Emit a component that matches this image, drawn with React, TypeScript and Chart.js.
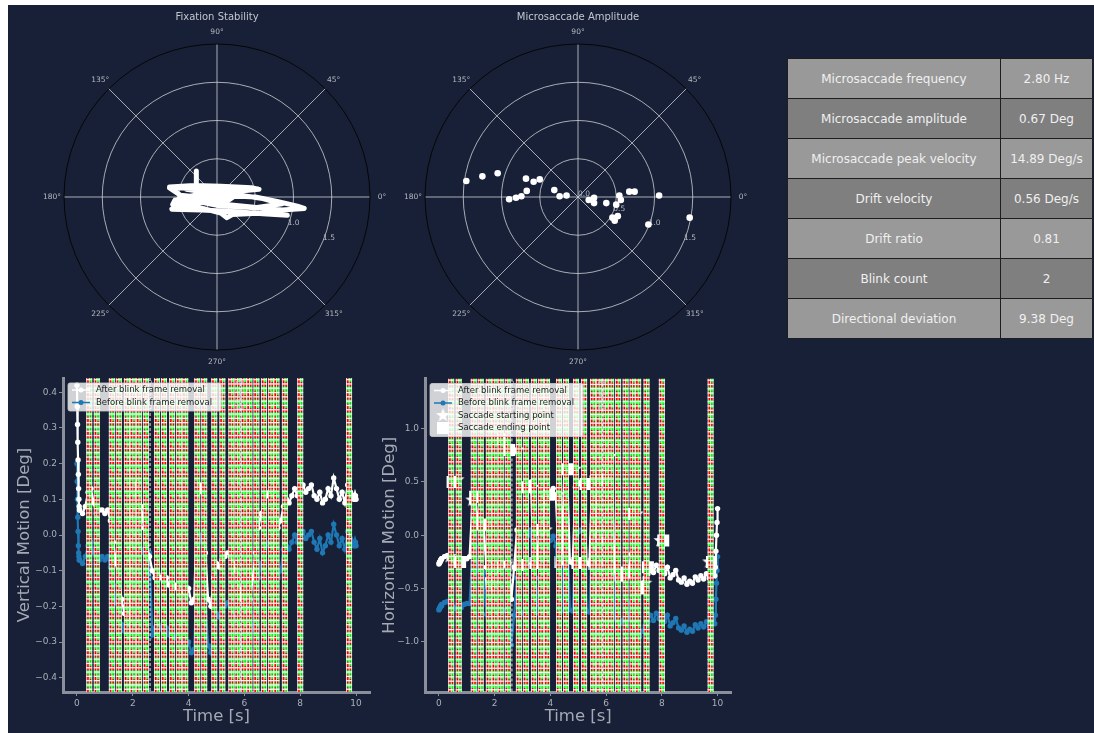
import React, { useEffect, useRef } from 'react';
import { Chart, registerables } from 'chart.js';

Chart.register(...registerables);
Chart.defaults.font.family = '"DejaVu Sans", sans-serif';

const BG = '#172036';
const SPINE = '#8a8f9b';
const TICK_COLOR = '#a9aeb8';
const TITLE_COLOR = '#a4a9b3';

// ---------- Polar plots ----------
const polarRings = [0.5, 1.0, 1.5];
const polarMax = 2.0;
const angleTicks = [0, 45, 90, 135, 180, 225, 270, 315];
const radialLabels = [0.0, 0.5, 1.0, 1.5];

// fixation trace (horizontal / vertical position, Deg)
const fixX = [-0.62, -0.30, 0.05, 0.45, 0.55, 0.20, -0.15, -0.40, -0.27, -0.27, -0.27, 0.10, 0.50, 0.80, 1.05, 1.14, 0.85, 0.45, 0.05, -0.35, -0.58, -0.55, -0.20, -0.45, -0.59, -0.20, 0.20, 0.60, 0.92, 0.60, 0.20, 0.13, 0.05, -0.30, -0.50, -0.20, 0.25, 0.60, 0.85, 0.50, 0.00, -0.40, -0.62, -0.10, 0.30, 0.15, -0.45];
const fixY = [0.13, 0.15, 0.14, 0.12, 0.10, 0.07, 0.09, 0.10, 0.08, 0.34, 0.06, 0.02, 0.00, -0.06, -0.12, -0.15, -0.17, -0.13, -0.09, -0.06, -0.10, -0.04, -0.07, -0.12, -0.16, -0.17, -0.19, -0.22, -0.24, -0.21, -0.23, -0.27, -0.21, -0.12, -0.02, 0.04, 0.03, -0.02, -0.09, -0.14, -0.11, -0.03, 0.12, 0.11, 0.06, -0.04, 0.02];

// microsaccade amplitude points (Deg)
const msX = [-1.46, -1.25, -1.05, -0.68, -0.58, -0.50, -0.67, -0.90, -0.81, -0.74, -0.31, -0.24, -0.15, 0.14, 0.21, 0.21, 0.37, 0.50, 0.54, 0.56, 0.67, 0.74, 1.06, 0.45, 0.52, 0.48, 0.92, 1.46];
const msY = [0.21, 0.27, 0.31, 0.24, 0.20, 0.23, 0.08, -0.03, -0.01, 0.01, 0.09, 0.01, 0.02, -0.04, -0.01, -0.08, -0.08, -0.10, 0.02, -0.04, 0.07, 0.07, 0.02, -0.27, -0.25, -0.31, -0.36, -0.27];

// ---------- Table ----------
const tableLabels = ['Microsaccade frequency', 'Microsaccade amplitude', 'Microsaccade peak velocity', 'Drift velocity', 'Drift ratio', 'Blink count', 'Directional deviation'];
const tableValues = ['2.80 Hz', '0.67 Deg', '14.89 Deg/s', '0.56 Deg/s', '0.81', '2', '9.38 Deg'];

// ---------- Motion traces ----------
const timeS = [
  0, 0.01, 0.02, 0.03, 0.04, 0.05, 0.06, 0.07, 0.08, 0.09,
  0.1, 0.2, 0.3, 0.4, 0.5, 0.6, 0.7, 0.8, 0.9, 1.0,
  1.1, 1.2, 1.3, 1.4, 1.5, 1.6, 1.7, 1.8, 1.9, 2.0,
  2.1, 2.2, 2.3, 2.4, 2.5, 2.6, 2.7, 2.8, 2.9, 3.0,
  3.1, 3.2, 3.3, 3.4, 3.5, 3.6, 3.7, 3.8, 3.9, 4.0,
  4.1, 4.2, 4.3, 4.4, 4.5, 4.6, 4.7, 4.8, 4.9, 5.0,
  5.1, 5.2, 5.3, 5.4, 5.5, 5.6, 5.7, 5.8, 5.9, 6.0,
  6.1, 6.2, 6.3, 6.4, 6.5, 6.6, 6.7, 6.8, 6.9, 7.0,
  7.1, 7.2, 7.3, 7.4, 7.5, 7.6, 7.7, 7.8, 7.9, 8.0,
  8.1, 8.2, 8.3, 8.4, 8.5, 8.6, 8.7, 8.8, 8.9, 9.0,
  9.1, 9.2, 9.3, 9.4, 9.5, 9.6, 9.7, 9.8, 9.9,
  9.92, 9.94, 9.96, 9.98, 10.0,
];

const vertAfter = [
  0.42, 0.36, 0.31, 0.26, 0.21, 0.17, 0.13, 0.10, 0.08, 0.07,
  0.07, 0.06, 0.08, 0.12, 0.13, 0.09, 0.06, 0.07, 0.07, 0.06,
  0.07, 0.04, -0.02, -0.08, -0.12, -0.18, -0.22, -0.25, -0.22, 0.05,
  0.14, 0.15, 0.08, 0.02, -0.03, -0.06, -0.10, -0.12, -0.11, -0.12,
  -0.13, -0.12, -0.14, -0.15, -0.14, -0.15, -0.16, -0.16, -0.17, -0.15,
  -0.19, -0.18, 0.05, 0.14, 0.12, -0.05, -0.18, -0.20, -0.12, -0.08,
  -0.09, -0.07, -0.06, -0.05, -0.06, -0.08, -0.10, -0.15, -0.18, -0.20,
  -0.21, -0.18, -0.12, -0.05, 0.02, 0.06, 0.09, 0.11, 0.12, 0.13,
  0.08, 0.02, 0.04, 0.08, 0.10, 0.09, 0.11, 0.13, 0.11, 0.12,
  0.14, 0.12, 0.13, 0.14, 0.11, 0.10, 0.12, 0.09, 0.10, 0.13,
  0.11, 0.16, 0.13, 0.10, 0.12, 0.09, 0.14, 0.12, 0.11,
  0.10, 0.11, 0.10, 0.11, 0.10,
];

const vertBefore = [
  0.20, 0.15, 0.10, 0.05, 0.01, -0.03, -0.05, -0.06, -0.07, -0.07,
  -0.07, -0.08, -0.06, -0.03, -0.02, -0.05, -0.08, -0.07, -0.06, -0.07,
  -0.06, -0.09, -0.14, -0.19, -0.22, -0.25, -0.27, -0.28, -0.26, -0.08,
  0.02, 0.03, -0.04, -0.05, -0.06, -0.05, -0.28, -0.26, -0.25, -0.26,
  -0.27, -0.26, -0.28, -0.29, -0.28, -0.29, -0.30, -0.30, -0.31, -0.30,
  -0.33, -0.32, -0.09, 0.00, -0.02, -0.19, -0.31, -0.33, -0.26, -0.22,
  -0.23, -0.21, -0.20, -0.19, -0.20, -0.22, -0.24, -0.29, -0.32, -0.34,
  -0.35, -0.32, -0.26, -0.19, -0.12, -0.08, -0.05, -0.03, -0.02, -0.01,
  -0.06, -0.12, -0.10, -0.04, -0.03, -0.04, -0.02, 0.00, -0.02, -0.01,
  0.01, -0.01, 0.00, 0.01, -0.02, -0.04, -0.01, -0.05, -0.03, 0.00,
  -0.02, 0.03, 0.00, -0.03, -0.01, -0.04, 0.01, -0.01, -0.02,
  -0.03, -0.02, -0.03, -0.02, -0.03,
];

const horAfter = [
  -0.27, -0.26, -0.26, -0.25, -0.25, -0.24, -0.24, -0.23, -0.23, -0.22,
  -0.22, -0.20, -0.19, -0.21, -0.24, -0.25, -0.23, -0.24, -0.22, -0.22,
  -0.20, 0.30, 0.35, 0.12, 0.08, 0.10, -0.30, -0.45, -0.50, -0.32,
  -0.28, -0.27, -0.26, -0.27, -0.26, -0.60, -0.30, 0.05, -0.25, -0.28,
  -0.27, 0.45, 0.50, -0.26, -0.28, 0.05, 0.10, 0.30, 0.35, 0.40,
  0.44, 0.35, -0.25, -0.26, 0.62, 0.60, -0.25, -0.26, 0.45, 0.48,
  0.50, 0.49, -0.26, -0.27, 0.55, -0.26, 0.50, 0.52, 0.50, 0.65,
  0.72, 0.75, -0.33, -0.36, -0.38, -0.35, -0.37, -0.34, -0.18, 0.20,
  0.21, -0.50, -0.45, -0.40, -0.36, -0.30, -0.35, -0.28, -0.33, -0.30,
  -0.36, -0.30, -0.40, -0.37, -0.33, -0.42, -0.44, -0.40, -0.46, -0.43,
  -0.45, -0.39, -0.42, -0.38, -0.41, -0.36, -0.40, -0.34, -0.38,
  -0.30, -0.15, 0.00, 0.12, 0.25,
];

const horBefore = [
  -0.70, -0.69, -0.69, -0.68, -0.68, -0.67, -0.67, -0.66, -0.66, -0.65,
  -0.66, -0.63, -0.62, -0.64, -0.67, -0.69, -0.66, -0.68, -0.65, -0.64,
  -0.64, -0.15, -0.10, -0.33, -0.37, -0.35, -0.74, -0.90, -0.95, -0.77,
  -0.73, -0.72, -0.71, -0.70, -0.62, -1.03, -0.75, -0.40, -0.70, -0.73,
  -0.72, 0.00, 0.05, -0.71, -0.73, -0.40, -0.35, -0.15, -0.10, -0.05,
  -0.01, -0.10, -0.70, -0.71, 0.17, 0.15, -0.70, -0.71, 0.00, 0.03,
  0.05, 0.04, -0.71, -0.72, 0.10, -0.71, 0.05, 0.07, 0.05, 0.20,
  0.27, 0.30, -0.78, -0.81, -0.83, -0.80, -0.82, -0.79, -0.63, -0.25,
  -0.24, -0.95, -0.90, -0.85, -0.81, -0.75, -0.80, -0.73, -0.78, -0.75,
  -0.81, -0.75, -0.85, -0.82, -0.78, -0.87, -0.89, -0.85, -0.91, -0.88,
  -0.90, -0.84, -0.87, -0.83, -0.86, -0.81, -0.85, -0.79, -0.83,
  -0.75, -0.60, -0.45, -0.33, -0.20,
];

// saccades (onset / offset, s) and horizontal positions at onset / offset (Deg)
const sacStart = [0.39, 0.66, 1.20, 1.45, 1.74, 1.95, 2.17, 2.42, 2.82, 3.07, 3.36, 3.61, 3.83, 4.26, 4.51, 4.87, 5.16, 5.48, 5.70, 5.93, 6.13, 6.38, 6.65, 6.90, 7.10, 7.40, 7.95, 9.70];
const sacEnd = [0.49, 0.76, 1.30, 1.55, 1.84, 2.05, 2.27, 2.52, 2.92, 3.17, 3.46, 3.71, 3.93, 4.36, 4.61, 4.97, 5.26, 5.58, 5.80, 6.03, 6.23, 6.48, 6.75, 7.00, 7.20, 7.50, 8.05, 9.80];
const sacStartH = [-0.20, 0.52, 0.33, 0.12, 0.08, -0.45, -0.30, -0.27, 0.80, -0.28, 0.45, -0.26, 0.05, 0.38, -0.25, 0.62, -0.26, 0.48, -0.27, -0.04, 0.74, -0.35, -0.37, -0.30, 0.20, -0.45, -0.05, -0.25];
const sacEndH = [0.50, -0.25, 0.36, 0.10, -0.45, -0.30, 0.90, 0.80, -0.28, 0.45, -0.26, 0.05, 0.38, -0.25, 0.62, -0.26, 0.48, -0.27, 0.52, 0.52, -0.33, -0.38, -0.35, 0.20, -0.50, -0.30, -0.05, -0.25];

const blinkTimes = [2.62, 5.87];
const blinkLabels = ['Blink 0', 'Blink 1'];

const timeTicks = [0, 2, 4, 6, 8, 10];
const vertTicks = [-0.4, -0.3, -0.2, -0.1, 0.0, 0.1, 0.2, 0.3, 0.4];
const horTicks = [-1.0, -0.5, 0.0, 0.5, 1.0];

// ---------- helpers ----------
function fmtTick(v: number) {
  if (Math.abs(v) < 1e-9) return '0.0';
  return v.toFixed(1).replace('-', '\u2212');
}

function makeStarCanvas(size: number) {
  const c = document.createElement('canvas');
  c.width = size; c.height = size;
  const g = c.getContext('2d')!;
  const cx = size / 2, cy = size / 2, ro = size / 2, ri = ro * 0.4;
  g.beginPath();
  for (let k = 0; k < 10; k++) {
    const r = k % 2 === 0 ? ro : ri;
    const a = -Math.PI / 2 + (k * Math.PI) / 5;
    const px = cx + r * Math.cos(a), py = cy + r * Math.sin(a);
    if (k === 0) g.moveTo(px, py); else g.lineTo(px, py);
  }
  g.closePath();
  g.fillStyle = '#ffffff';
  g.fill();
  return c;
}

function makePolarPlugin(title: string) {
  return {
    id: 'polarGrid',
    beforeDatasetsDraw(chart: any) {
      const { ctx } = chart;
      const xs = chart.scales.x, ys = chart.scales.y;
      const cx = xs.getPixelForValue(0), cy = ys.getPixelForValue(0);
      const unit = xs.getPixelForValue(1) - cx;
      const R = polarMax * unit;
      ctx.save();
      ctx.lineWidth = 1;
      ctx.strokeStyle = 'rgba(205,208,214,0.8)';
      polarRings.forEach((r) => {
        ctx.beginPath(); ctx.arc(cx, cy, r * unit, 0, Math.PI * 2); ctx.stroke();
      });
      angleTicks.forEach((a) => {
        const rad = (a * Math.PI) / 180;
        ctx.beginPath(); ctx.moveTo(cx, cy);
        ctx.lineTo(cx + R * Math.cos(rad), cy - R * Math.sin(rad)); ctx.stroke();
      });
      ctx.strokeStyle = '#060606';
      ctx.beginPath(); ctx.arc(cx, cy, R, 0, Math.PI * 2); ctx.stroke();

      ctx.fillStyle = '#b4b8c0';
      ctx.font = '7.5px "DejaVu Sans"';
      ctx.textAlign = 'center'; ctx.textBaseline = 'middle';
      angleTicks.forEach((a) => {
        const rad = (a * Math.PI) / 180;
        ctx.fillText(a + '\u00b0', cx + (R + 12) * Math.cos(rad), cy - (R + 12) * Math.sin(rad));
      });
      ctx.textAlign = 'left'; ctx.textBaseline = 'alphabetic';
      const la = (-22.5 * Math.PI) / 180;
      radialLabels.forEach((r) => {
        ctx.fillText(r.toFixed(1), cx + r * unit * Math.cos(la), cy - r * unit * Math.sin(la) - 1);
      });
      ctx.fillStyle = '#c3c7cf';
      ctx.font = '10px "DejaVu Sans"';
      ctx.textAlign = 'center'; ctx.textBaseline = 'middle';
      ctx.fillText(title, cx, cy - R - 27);
      ctx.restore();
    },
  };
}

const bandsPlugin = {
  id: 'saccadeBands',
  afterDatasetsDraw(chart: any) {
    const { ctx, chartArea: ca } = chart;
    const xs = chart.scales.x;
    const top = ca.top, bot = ca.bottom;
    ctx.save();
    ctx.beginPath(); ctx.rect(ca.left, ca.top, ca.right - ca.left, ca.bottom - ca.top); ctx.clip();
    // blink lines
    ctx.strokeStyle = 'rgba(255,255,255,0.9)'; ctx.lineWidth = 1; ctx.setLineDash([3, 2]);
    blinkTimes.forEach((t) => {
      const x = xs.getPixelForValue(t);
      ctx.beginPath(); ctx.moveTo(x, top); ctx.lineTo(x, bot); ctx.stroke();
    });
    ctx.setLineDash([]);
    sacStart.forEach((s, i) => {
      const x0 = xs.getPixelForValue(s), x1 = xs.getPixelForValue(sacEnd[i]);
      const l = x0 - 1.2, r = x1 + 1.2, m = (l + r) / 2;
      const hw = m - l;
      let k = 0;
      for (let y = top; y < bot; y += 4.3, k++) {
        const h = Math.min(4.3, bot - y);
        ctx.fillStyle = k % 3 === 2 ? '#00ff00' : '#ff0000';
        ctx.fillRect(l, y, hw, h);
        ctx.fillStyle = k % 3 === 1 ? '#ff0000' : '#00ff00';
        ctx.fillRect(m, y, hw, h);
      }
      ctx.fillStyle = 'rgba(255,255,255,0.85)';
      ctx.fillRect(l - 0.4, top, 0.9, bot - top);
      ctx.fillRect(r - 0.5, top, 0.9, bot - top);
      ctx.fillRect(m - 0.45, top, 0.9, bot - top);
      ctx.fillStyle = 'rgba(255,255,255,0.95)';
      for (let y = top + 1; y < bot; y += 4.3) ctx.fillRect(l - 0.4, y, r - l + 0.8, 1.3);
    });
    // blink labels
    ctx.fillStyle = 'rgba(205,208,214,0.8)';
    ctx.font = '9px "DejaVu Sans"';
    ctx.textAlign = 'right'; ctx.textBaseline = 'middle';
    blinkTimes.forEach((t, i) => {
      const x = xs.getPixelForValue(t);
      ctx.save();
      ctx.translate(x, top + 1);
      ctx.rotate(-Math.PI / 2);
      ctx.fillText(blinkLabels[i], 0, 0);
      ctx.restore();
    });
    ctx.restore();
  },
};

type LegendItem = { label: string; kind: 'line' | 'star' | 'square'; color: string };

function makeLegendPlugin(items: LegendItem[], star: HTMLCanvasElement) {
  return {
    id: 'customLegend',
    afterDraw(chart: any) {
      const { ctx, chartArea: ca } = chart;
      ctx.save();
      ctx.font = '8.5px "DejaVu Sans"';
      const rowH = 12.5;
      const x0 = ca.left + 5, y0 = ca.top + 5;
      const textX = x0 + 28;
      let tw = 0;
      items.forEach((it) => { tw = Math.max(tw, ctx.measureText(it.label).width); });
      const w = 28 + tw + 9;
      const h = items.length * rowH + 3;
      ctx.beginPath();
      ctx.roundRect(x0, y0, w, h, 2);
      ctx.fillStyle = 'rgba(255,255,255,0.8)';
      ctx.fill();
      ctx.strokeStyle = 'rgba(204,204,204,0.8)';
      ctx.lineWidth = 1;
      ctx.stroke();
      items.forEach((it, i) => {
        const cy = y0 + 7 + i * rowH;
        const mx = x0 + 13;
        if (it.kind === 'line') {
          ctx.strokeStyle = it.color; ctx.lineWidth = 1.5;
          ctx.beginPath(); ctx.moveTo(x0 + 4, cy); ctx.lineTo(x0 + 22, cy); ctx.stroke();
          ctx.fillStyle = it.color;
          ctx.beginPath(); ctx.arc(mx, cy, 2.5, 0, Math.PI * 2); ctx.fill();
        } else if (it.kind === 'star') {
          ctx.drawImage(star, mx - star.width / 2, cy - star.height / 2);
        } else {
          ctx.fillStyle = it.color;
          ctx.fillRect(mx - 6, cy - 6, 12, 12);
        }
        ctx.fillStyle = '#262626';
        ctx.textAlign = 'left'; ctx.textBaseline = 'middle';
        ctx.fillText(it.label, textX, cy);
      });
      ctx.restore();
    },
  };
}

function polarConfig(title: string, dataset: any) {
  return {
    type: 'scatter' as const,
    data: { datasets: [dataset] },
    options: {
      animation: false as const,
      responsive: false,
      events: [] as any[],
      layout: { padding: { left: 37, right: 37, top: 39, bottom: 20 } },
      plugins: { legend: { display: false }, tooltip: { enabled: false } },
      scales: {
        x: { type: 'linear' as const, min: -polarMax, max: polarMax, display: false },
        y: { type: 'linear' as const, min: -polarMax, max: polarMax, display: false },
      },
    },
    plugins: [makePolarPlugin(title)],
  };
}

function motionConfig(opts: {
  datasets: any[]; yMin: number; yMax: number; yTicks: number[]; yTitle: string;
  yWidth: number; yTitlePad: number; legend: LegendItem[]; star: HTMLCanvasElement;
}) {
  return {
    type: 'scatter' as const,
    data: { datasets: opts.datasets },
    options: {
      animation: false as const,
      responsive: false,
      events: [] as any[],
      layout: { padding: { top: 8, right: 8, left: 0, bottom: 0 } },
      plugins: { legend: { display: false }, tooltip: { enabled: false } },
      scales: {
        x: {
          type: 'linear' as const, min: -0.5, max: 10.5,
          afterBuildTicks: (s: any) => { s.ticks = timeTicks.map((v) => ({ value: v })); },
          afterFit: (s: any) => { s.height = 38; },
          ticks: { color: TICK_COLOR, font: { size: 9 }, padding: 2, maxRotation: 0, callback: (v: any) => String(v) },
          grid: { display: true, drawOnChartArea: false, drawTicks: true, tickLength: 4, color: SPINE, tickWidth: 1 },
          border: { display: true, color: SPINE, width: 3 },
          title: { display: true, text: 'Time [s]', color: TITLE_COLOR, font: { size: 16.5 }, padding: { top: 0, bottom: 3.4 } },
        },
        y: {
          type: 'linear' as const, min: opts.yMin, max: opts.yMax,
          afterBuildTicks: (s: any) => { s.ticks = opts.yTicks.map((v) => ({ value: v })); },
          afterFit: (s: any) => { s.width = opts.yWidth; },
          ticks: { color: TICK_COLOR, font: { size: 9 }, padding: 2, callback: (v: any) => fmtTick(Number(v)) },
          grid: { display: true, drawOnChartArea: false, drawTicks: true, tickLength: 4, color: SPINE, tickWidth: 1 },
          border: { display: true, color: SPINE, width: 3 },
          title: { display: true, text: opts.yTitle, color: TITLE_COLOR, font: { size: 16.5 }, padding: { top: opts.yTitlePad, bottom: 0 } },
        },
      },
    },
    plugins: [bandsPlugin, makeLegendPlugin(opts.legend, opts.star)],
  };
}

function traceDataset(label: string, vals: number[], color: string) {
  return {
    label,
    data: timeS.map((t, i) => ({ x: t, y: vals[i] })),
    showLine: true,
    borderColor: color,
    backgroundColor: color,
    borderWidth: 2.2,
    pointRadius: 2.7,
    pointBorderWidth: 0,
  };
}

export default function App() {
  const p1 = useRef<HTMLCanvasElement>(null);
  const p2 = useRef<HTMLCanvasElement>(null);
  const m1 = useRef<HTMLCanvasElement>(null);
  const m2 = useRef<HTMLCanvasElement>(null);

  useEffect(() => {
    const charts: Chart[] = [];
    const star = makeStarCanvas(15);

    charts.push(new Chart(p1.current!, polarConfig('Fixation Stability', {
      data: fixX.map((x, i) => ({ x, y: fixY[i] })),
      showLine: true,
      borderColor: '#ffffff',
      borderWidth: 5,
      pointRadius: 0,
      borderJoinStyle: 'round',
      borderCapStyle: 'round',
    }) as any));

    charts.push(new Chart(p2.current!, polarConfig('Microsaccade Amplitude', {
      data: msX.map((x, i) => ({ x, y: msY[i] })),
      backgroundColor: '#ffffff',
      borderWidth: 0,
      pointRadius: 3.3,
    }) as any));

    charts.push(new Chart(m1.current!, motionConfig({
      datasets: [
        traceDataset('After blink frame removal', vertAfter, '#ffffff'),
        traceDataset('Before blink frame removal', vertBefore, '#1f77b4'),
      ],
      yMin: -0.44, yMax: 0.44, yTicks: vertTicks, yTitle: 'Vertical Motion [Deg]',
      yWidth: 55, yTitlePad: 7, star,
      legend: [
        { label: 'After blink frame removal', kind: 'line', color: '#ffffff' },
        { label: 'Before blink frame removal', kind: 'line', color: '#1f77b4' },
      ],
    }) as any));

    charts.push(new Chart(m2.current!, motionConfig({
      datasets: [
        traceDataset('After blink frame removal', horAfter, '#ffffff'),
        traceDataset('Before blink frame removal', horBefore, '#1f77b4'),
        {
          label: 'Saccade starting point',
          data: sacStart.map((t, i) => ({ x: t, y: sacStartH[i] })),
          pointStyle: star, pointRadius: 7, showLine: false,
        },
        {
          label: 'Saccade ending point',
          data: sacEnd.map((t, i) => ({ x: t, y: sacEndH[i] })),
          pointStyle: 'rect', pointRadius: 8.5, showLine: false,
          backgroundColor: '#ffffff', borderColor: '#ffffff', borderWidth: 0,
        },
      ],
      yMin: -1.47, yMax: 1.47, yTicks: horTicks, yTitle: 'Horizontal Motion [Deg]',
      yWidth: 47, yTitlePad: 2, star,
      legend: [
        { label: 'After blink frame removal', kind: 'line', color: '#ffffff' },
        { label: 'Before blink frame removal', kind: 'line', color: '#1f77b4' },
        { label: 'Saccade starting point', kind: 'star', color: '#ffffff' },
        { label: 'Saccade ending point', kind: 'square', color: '#ffffff' },
      ],
    }) as any));

    return () => { charts.forEach((c) => c.destroy()); };
  }, []);

  const canvasStyle = (left: number, top: number, w: number, h: number): React.CSSProperties => ({
    position: 'absolute', left, top, width: w, height: h,
  });

  return (
    <div style={{ position: 'absolute', left: 8, top: 5, width: 1086, height: 728, background: BG, overflow: 'hidden' }}>
      <canvas ref={p1} width={380} height={365} style={canvasStyle(19, 0, 380, 365)} />
      <canvas ref={p2} width={380} height={365} style={canvasStyle(380, 0, 380, 365)} />
      <canvas ref={m1} width={370} height={360} style={canvasStyle(0, 365, 370, 360)} />
      <canvas ref={m2} width={362} height={360} style={canvasStyle(370, 365, 362, 360)} />
      <div style={{
        position: 'absolute', left: 779, top: 53, width: 306, boxSizing: 'border-box',
        background: '#1e1e1e', padding: 1, display: 'grid',
        gridTemplateColumns: '212px 91px', gridAutoRows: '39px', gap: 1,
        fontFamily: '"DejaVu Sans", sans-serif', fontSize: 12, color: '#f0f0f0',
      }}>
        {tableLabels.map((lab, i) => {
          const bg = i % 2 === 0 ? '#999999' : '#7f7f7f';
          const cell: React.CSSProperties = { background: bg, display: 'flex', alignItems: 'center', justifyContent: 'center', whiteSpace: 'nowrap' };
          return (
            <React.Fragment key={lab}>
              <div style={cell}>{lab}</div>
              <div style={cell}>{tableValues[i]}</div>
            </React.Fragment>
          );
        })}
      </div>
    </div>
  );
}
